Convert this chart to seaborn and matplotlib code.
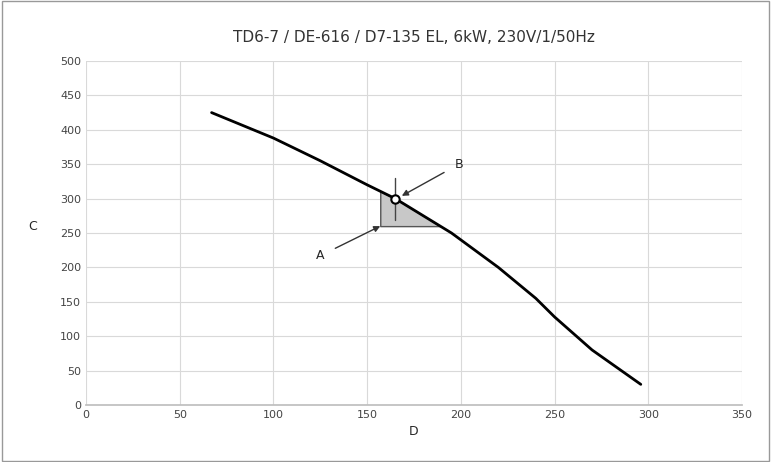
import matplotlib
matplotlib.use("Agg")
import matplotlib.pyplot as plt
import seaborn as sns
import numpy as np

curve_x = [67, 100, 125, 150, 165, 195, 220, 240, 250, 270, 296]
curve_y = [425, 388, 355, 320, 300, 250, 200, 155, 128, 80, 30]
point_b = (165, 300)
shade_left, shade_bottom, shade_right = 157, 260, 189
title = "TD6-7 / DE-616 / D7-135 EL, 6kW, 230V/1/50Hz"

sns.set_theme(style="whitegrid")
plt.rcParams['font.family'] = ['DejaVu Sans']
fig = plt.figure(figsize=(7.71, 4.62), dpi=100)
ax = fig.add_axes([86/771, 1-405/462, (742-86)/771, (405-61)/462])
sns.lineplot(x=curve_x, y=curve_y, ax=ax, color="black", linewidth=2)

xs = np.linspace(shade_left, shade_right, 50)
ys = np.interp(xs, curve_x, curve_y)
ax.fill_between(xs, shade_bottom, ys, color="#c8c8c8", edgecolor="#555555", linewidth=1, zorder=1)
ax.plot([point_b[0]]*2, [269, 330], color="#444444", linewidth=1)
ax.plot(*point_b, marker="o", markersize=6, mfc="white", mec="black", mew=1.5, zorder=5)

ax.annotate("A", xy=(157, 260), xytext=(125, 217), fontsize=9, ha="center", va="center",
            arrowprops=dict(arrowstyle="-|>", color="#333333", lw=1, shrinkA=6, shrinkB=0))
ax.annotate("B", xy=(168.5, 304), xytext=(199, 350), fontsize=9, ha="center", va="center",
            arrowprops=dict(arrowstyle="-|>", color="#333333", lw=1, shrinkA=6, shrinkB=0))

ax.set_xlim(0, 350)
ax.set_ylim(0, 500)
ax.set_xticks(range(0, 351, 50))
ax.set_yticks(range(0, 501, 50))
ax.tick_params(labelsize=8, colors="#444444", length=0)
ax.grid(color="#d9d9d9", linewidth=0.8)
for s in ax.spines.values():
    s.set_visible(False)
ax.spines['bottom'].set_visible(True)
ax.spines['bottom'].set_color("#bfbfbf")
ax.set_xlabel("D", fontsize=9)
ax.set_ylabel("C", fontsize=9, rotation=0, labelpad=20)
ax.set_title(title, fontsize=11, color="#333333", pad=14)
fig.patches.append(plt.Rectangle((0.003, 0.003), 0.994, 0.994, transform=fig.transFigure,
                                 fill=False, edgecolor="#999999", linewidth=1))
fig.savefig("out.png", dpi=100)
